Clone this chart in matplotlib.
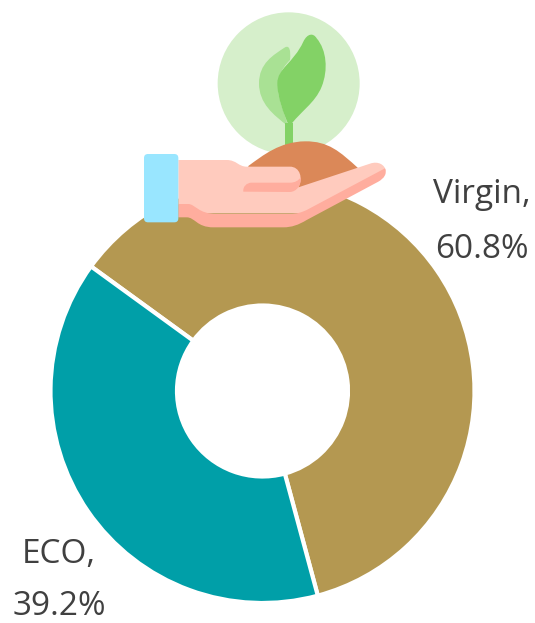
import matplotlib
matplotlib.use("Agg")
import matplotlib.pyplot as plt
from matplotlib.path import Path
from matplotlib.patches import PathPatch, Circle, FancyBboxPatch

categories = ["Virgin", "ECO"]
shares = [60.8, 39.2]
colors = ["#B49851", "#009FA8"]
W, H = 535, 623

fig = plt.figure(figsize=(W / 100, H / 100), dpi=100)
ax = fig.add_axes([0, 0, 1, 1])
ax.pie(shares, colors=colors, startangle=-216, counterclock=False,
       radius=212, center=(262.5, H - 391), frame=True,
       wedgeprops=dict(width=126.5, edgecolor="white", linewidth=3))
ax.set_xlim(0, W)
ax.set_ylim(0, H)
ax.set_aspect("equal")
ax.axis("off")


def P(x, y):
    return (130 + x / 3, H - y / 3)


def shape(start, segments, color, z=3):
    verts = [P(*start)]
    codes = [Path.MOVETO]
    for seg in segments:
        if len(seg) == 1:
            verts.append(P(*seg[0]))
            codes.append(Path.LINETO)
        else:
            for pt in seg:
                verts.append(P(*pt))
                codes.append(Path.CURVE4)
    verts.append(verts[0])
    codes.append(Path.CLOSEPOLY)
    ax.add_patch(PathPatch(Path(verts, codes), facecolor=color, edgecolor="none", zorder=z))


ax.add_patch(Circle(P(476, 250), 71, facecolor="#D6EFCB", edgecolor="none", zorder=3))
shape((474, 378), [[(430, 345), (387, 310), (387, 250)],
                   [(387, 190), (430, 165), (465, 142)],
                   [(478, 135), (483, 150), (480, 180)],
                   [(450, 210), (440, 240), (445, 280)],
                   [(450, 310), (465, 345), (474, 378)]], "#A9E194")
shape((465, 370), [[(488, 370)], [(488, 445)], [(465, 445)]], "#83D266")
shape((478, 380), [[(460, 340), (442, 290), (442, 250)],
                   [(442, 205), (490, 190), (520, 125)],
                   [(532, 100), (550, 98), (560, 115)],
                   [(590, 150), (595, 210), (575, 260)],
                   [(555, 310), (510, 335), (478, 380)]], "#83D266")
shape((355, 498), [[(400, 465), (450, 425), (525, 424)],
                   [(595, 423), (630, 455), (685, 505)],
                   [(505, 570)], [(355, 570)]], "#DB8858", z=4)
shape((145, 480), [[(290, 480)],
                   [(320, 480), (325, 500), (350, 500)],
                   [(480, 500)],
                   [(510, 500), (520, 535), (505, 562)],
                   [(720, 491)],
                   [(745, 482), (765, 495), (767, 512)],
                   [(520, 640)], [(180, 640)], [(145, 612)]], "#FFCBBE", z=5)
shape((145, 612), [[(175, 612)],
                   [(195, 612), (205, 642), (260, 642)],
                   [(480, 642)],
                   [(500, 642), (515, 637), (530, 630)],
                   [(765, 505)],
                   [(772, 522), (762, 535), (745, 545)],
                   [(530, 660)],
                   [(505, 675), (485, 682), (460, 682)],
                   [(250, 682)],
                   [(200, 682), (195, 652), (170, 652)],
                   [(145, 652)]], "#FFAD9E", z=6)
shape((340, 575), [[(338, 560), (350, 548), (365, 548)],
                   [(480, 548)],
                   [(495, 548), (505, 542), (512, 532)],
                   [(515, 555), (500, 575), (480, 576)]], "#FFAD9E", z=6)
x0, y0 = P(42, 667)
x1, y1 = P(145, 462)
ax.add_patch(FancyBboxPatch((x0 + 3, y0 + 3), x1 - x0 - 6, y1 - y0 - 6,
                            boxstyle="round,pad=3,rounding_size=4",
                            facecolor="#99E6FF", edgecolor="none", zorder=7))

font = dict(family="Open Sans", fontsize=24, color="#404040", ha="center", va="center")
ax.text(481.5, H - 194.5, f"{categories[0]},", **font)
ax.text(481.5, H - 250, f"{shares[0]}%", **font)
ax.text(59, H - 554.5, f"{categories[1]},", **font)
ax.text(59, H - 606.5, f"{shares[1]}%", **font)

fig.savefig("out.png", dpi=100)
